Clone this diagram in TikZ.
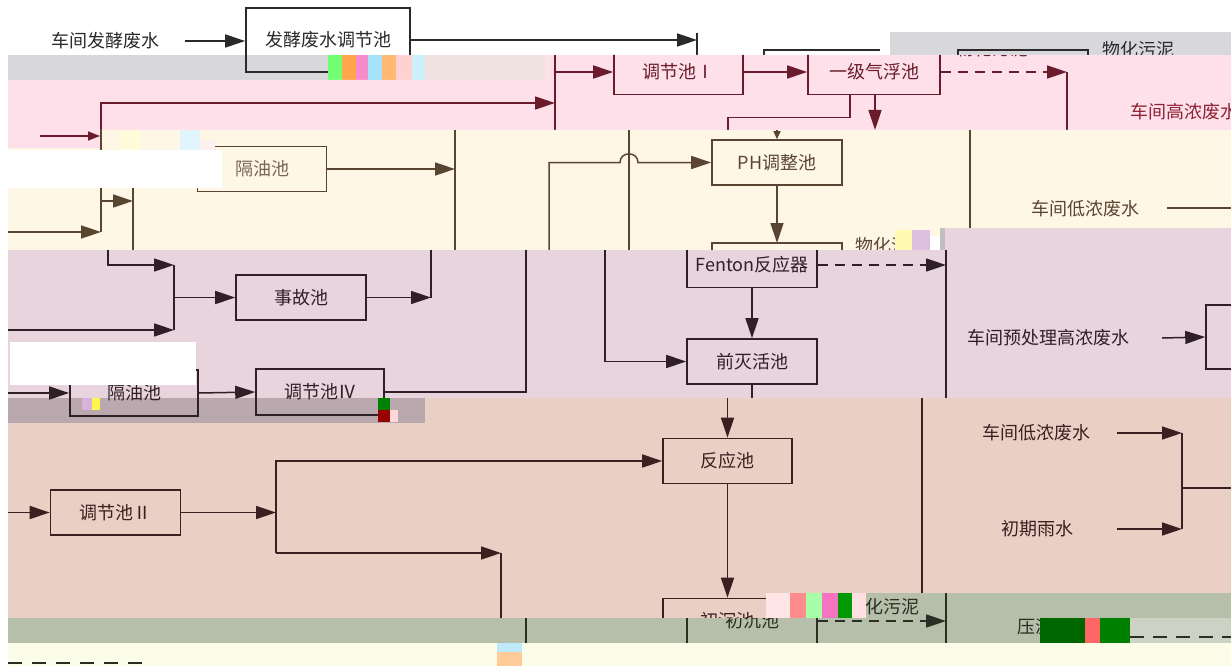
\documentclass[tikz,border=0pt]{standalone}
\usepackage{fontspec}
\setmainfont{Noto Sans CJK SC}
\usetikzlibrary{arrows.meta}

\definecolor{greyband}{HTML}{D8D8DC}
\definecolor{pinkstrip}{HTML}{F2E3E3}
\definecolor{pinkbg}{HTML}{FDE0EA}
\definecolor{pinkln}{HTML}{6A1C2C}
\definecolor{pinktext}{HTML}{8E2233}
\definecolor{beigebg}{HTML}{FFF7E6}
\definecolor{beigeln}{HTML}{5A4532}
\definecolor{beigetxt}{HTML}{7A6655}
\definecolor{mauvebg}{HTML}{E7D4DD}
\definecolor{mauvedk}{HTML}{BAA8AF}
\definecolor{mauveln}{HTML}{2E2026}
\definecolor{peachbg}{HTML}{EACFC4}
\definecolor{peachln}{HTML}{3A2020}
\definecolor{greenbg}{HTML}{B6BFAA}
\definecolor{greenln}{HTML}{2A2E24}
\definecolor{paleyl}{HTML}{FCFDE8}
\definecolor{topln}{HTML}{2A2A2A}

\tikzset{
    pool/.style={draw,line width=1.6pt,minimum width=129pt,minimum height=45pt,inner sep=0pt,font=\fontsize{18}{21}\selectfont},
    lbl/.style={inner sep=0pt,font=\fontsize{18}{21}\selectfont},
    pipe/.style={line width=1.5pt},
    flow/.style={pipe,-{Triangle[length=20pt,width=13pt]}},
    tick/.style={pipe,-{Triangle[length=8pt,width=7pt]}},
    sludge/.style={flow,dash pattern=on 10pt off 7pt},
}

\begin{document}
\begin{tikzpicture}[x=1pt,y=-1pt]
    \useasboundingbox (0,0) rectangle (1231,666);
    \fill[white] (0,0) rectangle (1231,666);

    % top band
    \fill[greyband] (8,55) rectangle (328,80);
    \fill[pinkstrip] (425,55) rectangle (545,80);
    \fill[greyband] (890,32) rectangle (1231,55);
    \begin{scope}[color=topln]
        \node[lbl] (srcFerm) at (105,41) {车间发酵废水};
        \node[pool,minimum width=164pt,minimum height=64pt] (tjcFerm) at (328,40) {发酵废水调节池};
        \coordinate (fermIn) at (185,41);
        \coordinate (fermOut) at (697,40);
        \draw[flow] (fermIn) -- (tjcFerm.west |- fermIn);
        \draw[flow] (tjcFerm.east) -- (fermOut);
        \draw[pipe] (697,33) -- (697,55);
        \draw[pipe] (764,55) -- (764,50) -- (880,50);
    \end{scope}
    \begin{scope}
        \clip (890,32) rectangle (1231,55);
        \draw[pipe,topln] (958,56) -- (958,50) -- (1088,50) -- (1088,56);
        \node[lbl,text=topln] (sludgeA) at (1138,50) {物化污泥};
    \end{scope}
    \fill[green!55] (328,55) rectangle (342,80);
    \fill[orange!70] (342,55) rectangle (356,80);
    \fill[magenta!45] (356,55) rectangle (368,80);
    \fill[cyan!35] (368,55) rectangle (382,80);
    \fill[orange!55] (382,55) rectangle (396,80);
    \fill[pink!70] (396,55) rectangle (412,80);
    \fill[cyan!20] (412,55) rectangle (425,80);

    % pink band
    \begin{scope}[color=pinkln]
        \clip (8,80) rectangle (545,130) (545,55) rectangle (1231,130);
        \fill[pinkbg] (0,0) rectangle (1231,666);
        \node[pool] (tjcI) at (678.5,72) {调节池Ⅰ};
        \node[pool,minimum width=132pt] (qfc) at (874,72) {一级气浮池};
        \draw[pipe] (555,55) -- (555,130);
        \draw[flow] (555,72) -- (tjcI.west);
        \draw[flow] (tjcI.east) -- (qfc.west);
        \draw[sludge] (qfc.east) -- (1067,72);
        \draw[pipe] (1067,72) -- (1067,130);
        \draw[pipe] ([xshift=-24pt]qfc.south) -- ++(0,22) -| (728,130);
        \draw[flow] ([xshift=1pt]qfc.south) -- (875,130);
        \draw[flow] (101,130) |- (555,103);
        \node[lbl,text=pinktext] (srcHigh) at (1184,112) {车间高浓废水};
        \node[lbl] (sludgeB) at (992,49) {物化污泥};
    \end{scope}

    % beige band
    \begin{scope}[color=beigeln]
        \clip (8,130) rectangle (945,250) (945,130) rectangle (1231,228);
        \fill[beigebg] (0,0) rectangle (1231,666);
        \node[pool,text=beigetxt] (gyc1) at (262,169) {隔油池};
        \node[pool,minimum width=130pt] (phc) at (777,162.5) {PH调整池};
        \draw[line width=1.6pt] (712,262) -- (712,243) -- (842,243) -- (842,262);
        \draw[flow] (gyc1.east) -- (455,169);
        \draw[pipe] (455,130) -- (455,250);
        \draw[pipe] (101,130) -- (101,232);
        \draw[flow] (8,232) -- (101,232);
        \draw[flow] (101,201) -- (133,201);
        \draw[pipe] (133,130) -- (133,250);
        \draw[pipe] (629,130) -- (629,250);
        \draw[flow] (549,250) -- (549,162.5) -- (620,162.5) .. controls (620,151) and (638,151) .. (638,162.5) -- (phc.west);
        \draw[tick] (777,130) -- (phc.north);
        \draw[flow] (phc.south) -- (777,243);
        \draw[pipe] (970,130) -- (970,228);
        \node[lbl] (srcLowA) at (1085,209) {车间低浓废水};
        \draw[pipe] (1167,208) -- (1231,208);
        \node[lbl] (sludgeC) at (891,246) {物化污泥};
    \end{scope}
    \fill[pinkbg] (8,130) rectangle (100,148);
    \draw[flow,pinkln,-{Triangle[length=12pt,width=9pt]}] (40,136) -- (100,136);
    \fill[yellow!15] (120,130) rectangle (140,150);
    \fill[cyan!12] (180,130) rectangle (200,150);
    \fill[pink!25] (200,140) rectangle (215,150);
    \fill[white] (8,150) rectangle (222,188);
    \fill[yellow!30] (895,230) rectangle (912,250);
    \fill[violet!25] (912,230) rectangle (930,250);
    \fill[white] (930,236) rectangle (940,250);
    \fill[black!25] (940,228) rectangle (975,250);
    \fill[black] (964,228) rectangle (976,240);

    % mauve band
    \begin{scope}[color=mauveln]
        \clip (8,250) rectangle (945,398) (945,228) rectangle (1231,398) (8,398) rectangle (425,423);
        \fill[mauvebg] (0,0) rectangle (1231,666);
        \fill[mauvedk] (8,398) rectangle (425,423);
        \node[pool,minimum width=130pt] (sgc) at (301,297.5) {事故池};
        \node[pool,minimum width=128pt,minimum height=46pt] (gyc2) at (134,393) {隔油池};
        \node[pool,minimum width=128pt,minimum height=46pt] (tjcIV) at (320,392) {调节池Ⅳ};
        \node[pool,minimum width=130pt] (fent) at (752,265) {Fenton反应器};
        \node[pool,minimum width=130pt] (qmh) at (752,361.5) {前灭活池};
        \draw[flow] (108,250) |- (174,265);
        \draw[flow] (8,330) -- (174,330);
        \draw[pipe] (174,265) -- (174,330);
        \draw[flow] (174,297.5) -- (sgc.west);
        \draw[flow] (sgc.east) -- (431,297.5);
        \draw[pipe] (431,250) -- (431,297.5);
        \draw[flow] (8,393) -- (gyc2.west);
        \draw[flow] (gyc2.east) -- (tjcIV.west);
        \draw[pipe] (tjcIV.east) -| (526,250);
        \draw[flow] (605,250) |- (qmh.west);
        \draw[sludge] (fent.east) -- (946,265);
        \draw[pipe] (946,250) -- (946,398);
        \draw[flow] (fent.south) -- (qmh.north);
        \draw[pipe] (qmh.south) -- (752,398);
        \node[lbl] (srcPre) at (1048,338) {车间预处理高浓废水};
        \node[pool,minimum width=60pt,minimum height=64pt] (preBox) at (1236,337) {};
        \draw[flow] (1162,338) -- (preBox.west);
    \end{scope}
    \fill[white] (10,342) rectangle (196,385);
    \fill[violet!30] (82,398) rectangle (92,410);
    \fill[yellow!70] (92,398) rectangle (100,410);
    \fill[green!50!black] (378,398) rectangle (390,410);
    \fill[red!60!black] (378,410) rectangle (390,422);
    \fill[pink!60] (390,410) rectangle (398,422);

    % peach band
    \begin{scope}[color=peachln]
        \clip (8,423) rectangle (425,618) (425,398) rectangle (866,618) (866,398) rectangle (1231,593);
        \fill[peachbg] (0,0) rectangle (1231,666);
        \node[pool] (fyc) at (727.5,461) {反应池};
        \node[pool,minimum width=130pt] (tjcII) at (115.5,512.5) {调节池Ⅱ};
        \node[pool] (ccc) at (727.5,621) {初沉池};
        \draw[flow] (727.5,398) -- (fyc.north);
        \draw[flow] (fyc.south) -- (ccc.north);
        \draw[pipe] (922,398) -- (922,593);
        \node[lbl] (srcLowB) at (1036,433) {车间低浓废水};
        \node[lbl] (srcRain) at (1037,529) {初期雨水};
        \draw[flow] (1117,433) -- (1182,433);
        \draw[flow] (1117,529) -- (1182,529);
        \draw[pipe] (1182,433) -- (1182,529);
        \draw[pipe] (1182,488) -- (1231,488);
        \draw[flow] (8,512.5) -- (tjcII.west);
        \draw[flow] (tjcII.east) -- (276,512.5);
        \draw[flow] (276,553) |- (fyc.west);
        \draw[flow] (276,553) -- (501,553);
        \draw[pipe] (501,553) -- (501,618);
    \end{scope}
    \fill[pink!40] (766,593) rectangle (790,618);
    \fill[red!45] (790,593) rectangle (806,618);
    \fill[green!35] (806,593) rectangle (822,618);
    \fill[magenta!55] (822,593) rectangle (838,618);
    \fill[green!60!black] (838,593) rectangle (852,618);
    \fill[pink!50] (852,593) rectangle (866,618);

    % green band
    \begin{scope}[color=greenln]
        \clip (8,618) rectangle (1231,643) (866,593) rectangle (1231,618);
        \fill[greenbg] (0,0) rectangle (1231,666);
        \node[pool,minimum width=130pt,minimum height=46pt] (cccB) at (752,621) {初沉池};
        \draw[pipe] (526,618) -- (526,643);
        \draw[sludge] (cccB.east) -- (946,621);
        \draw[pipe] (946,593) -- (946,643);
        \node[lbl] (sludgeD) at (883,607) {物化污泥};
        \node[lbl] (press) at (1035,627) {压滤};
    \end{scope}
    \fill[green!40!black] (1040,618) rectangle (1085,643);
    \fill[red!60] (1085,618) rectangle (1100,643);
    \fill[green!50!black] (1100,618) rectangle (1130,643);
    \fill[greenbg!70!white] (1130,618) rectangle (1231,643);
    \draw[pipe,greenln,dash pattern=on 14pt off 9pt] (1130,637) -- (1231,637);

    % bottom band
    \fill[paleyl] (8,643) rectangle (1231,666);
    \fill[cyan!25] (497,643) rectangle (522,652);
    \fill[orange!40] (497,652) rectangle (522,666);
    \draw[pipe,greenln,dash pattern=on 14pt off 10pt] (8,663) -- (145,663);
\end{tikzpicture}
\end{document}
